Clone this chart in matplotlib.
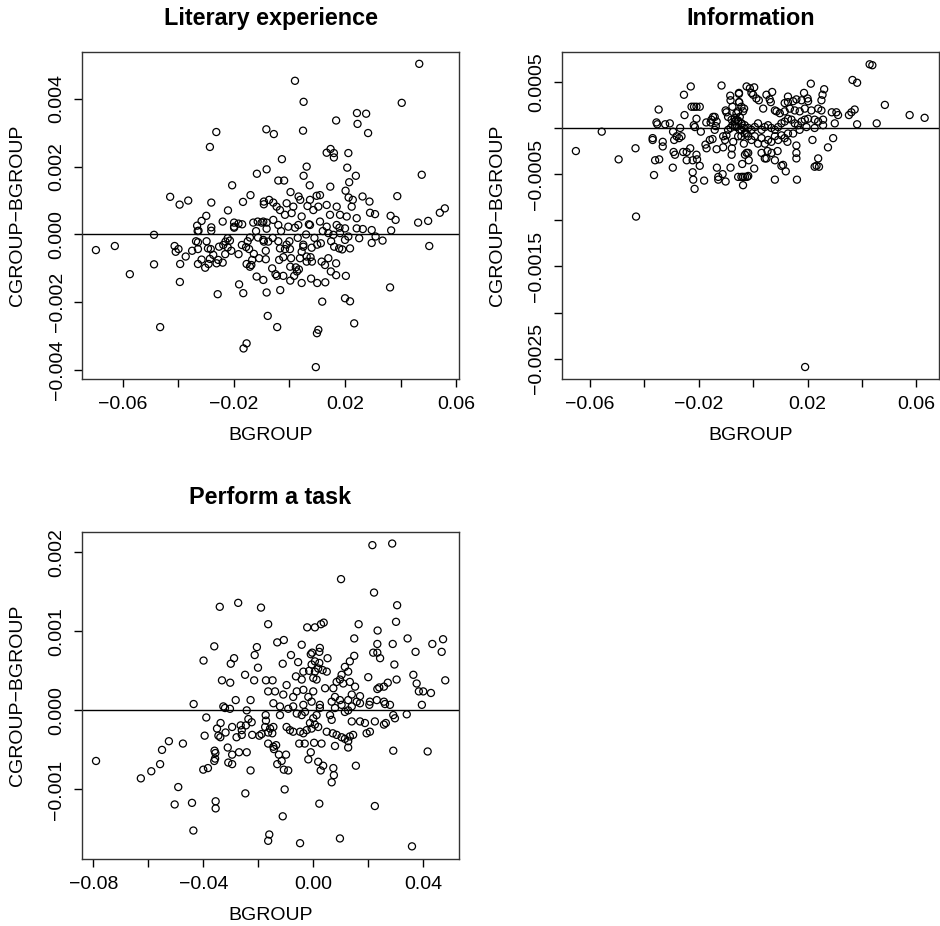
import matplotlib
matplotlib.use("Agg")
import matplotlib.pyplot as plt

plt.rcParams['font.family'] = ['Liberation Sans', 'DejaVu Sans']

# (BGROUP, CGROUP-BGROUP)
literary_pts = [
    (-0.0263, 0.00302), (-0.0286, 0.00258), (-0.0083, 0.00310), (-0.0082, 0.00192), (-0.0117, 0.00179),
    (-0.0206, 0.00145), (-0.0140, 0.00116), (-0.0429, 0.00111), (-0.0395, 0.00088), (-0.0364, 0.00100),
    (-0.0281, 0.00094), (-0.0167, 0.00096), (-0.0221, 0.00071), (-0.0092, 0.00097), (-0.0092, 0.00089),
    (-0.0299, 0.00055), (-0.0316, 0.00040), (-0.0332, 0.00026), (-0.0281, 0.00021), (-0.0281, 0.00011),
    (-0.0240, 0.00038), (-0.0199, 0.00035), (-0.0183, 0.00032), (-0.0199, 0.00023), (-0.0130, 0.00035),
    (-0.0114, 0.00038), (-0.0100, 0.00035), (-0.0082, 0.00035), (-0.0327, 0.00011), (-0.0487, -0.00001),
    (-0.0082, 0.00017),
    (-0.0696, -0.00046), (-0.0628, -0.00034), (-0.0574, -0.00117), (-0.0487, -0.00088), (-0.0465, -0.00273),
    (-0.0413, -0.00034), (-0.0399, -0.00043), (-0.0409, -0.00051), (-0.0373, -0.00065), (-0.0393, -0.00087),
    (-0.0394, -0.00140), (-0.0350, -0.00048), (-0.0336, -0.00020), (-0.0329, -0.00023), (-0.0329, -0.00043),
    (-0.0329, -0.00087), (-0.0316, -0.00074), (-0.0298, -0.00020), (-0.0293, -0.00041), (-0.0283, -0.00043),
    (-0.0303, -0.00098), (-0.0291, -0.00087), (-0.0286, -0.00072), (-0.0274, -0.00060), (-0.0262, -0.00085),
    (-0.0256, -0.00075), (-0.0240, -0.00083), (-0.0231, -0.00058), (-0.0253, -0.00036), (-0.0238, -0.00031),
    (-0.0230, -0.00021), (-0.0222, -0.00011), (-0.0214, -0.00018), (-0.0222, -0.00038), (-0.0209, -0.00048),
    (-0.0183, -0.00058), (-0.0258, -0.00176), (-0.0181, -0.00147), (-0.0166, -0.00173), (-0.0154, -0.00321),
    (-0.0165, -0.00336), (-0.0171, -0.00031), (-0.0156, -0.00037), (-0.0145, -0.00043), (-0.0128, -0.00057),
    (-0.0154, -0.00087), (-0.0137, -0.00090), (-0.0134, -0.00075), (-0.0142, -0.00095), (-0.0109, -0.00070),
    (-0.0118, -0.00124), (-0.0094, -0.00134), (-0.0082, -0.00171), (-0.0078, -0.00240), (-0.0085, -0.00048),
    (-0.0092, -0.00021), (-0.0142, -0.00009), (-0.0113, -0.00009), (-0.0199, 0.00020), (-0.0330, 0.00010),
    (0.0503, -0.00034), (0.0362, -0.00156), (0.0200, -0.00188), (0.0218, -0.00197), (0.0118, -0.00198),
    (0.0233, -0.00262), (0.0104, -0.00281), (0.0099, -0.00291), (0.0095, -0.00391), (-0.0044, -0.00273),
    (-0.0033, -0.00164), (0.0044, -0.00143), (0.0100, -0.00143), (0.0129, -0.00141), (0.0078, -0.00130),
    (0.0203, -0.00122), (0.0168, -0.00120), (0.0149, -0.00109), (0.0168, -0.00085), (0.0366, 0.00012),
    (0.0296, 0.00013), (0.0296, -0.00025), (0.0335, -0.00018), (0.0310, -0.00006), (0.0251, -0.00011),
    (0.0264, 0.00016), (0.0242, 0.00018),
    (0.0003, -0.00136), (0.0017, -0.00122), (0.0027, -0.00109), (0.0034, -0.00103), (0.0023, -0.00097),
    (-0.0062, -0.00100), (-0.0050, -0.00117), (-0.0045, -0.00122), (-0.0022, -0.00122), (-0.0085, -0.00073),
    (-0.0037, -0.00075), (-0.0022, -0.00067), (0.0006, -0.00070), (0.0003, -0.00095), (0.0038, -0.00070),
    (0.0044, -0.00051), (0.0062, -0.00065), (0.0076, -0.00067), (0.0081, -0.00080), (0.0062, -0.00080),
    (0.0116, -0.00080), (0.0128, -0.00090), (0.0140, -0.00070), (0.0080, -0.00039), (0.0050, -0.00036),
    (0.0113, -0.00026), (0.0161, -0.00036), (0.0179, -0.00041), (0.0190, -0.00044), (0.0218, -0.00041),
    (0.0140, 0.00004), (0.0158, -0.00001), (0.0182, 0.00004), (0.0200, -0.00016), (0.0212, -0.00006),
    (-0.0034, -0.00041), (-0.0016, -0.00043), (0.0002, -0.00043), (-0.0094, -0.00016), (-0.0076, -0.00021),
    (0.0467, 0.00503), (0.0020, 0.00453), (0.0051, 0.00391), (0.0404, 0.00388), (0.0243, 0.00358),
    (0.0276, 0.00356), (0.0168, 0.00336), (0.0245, 0.00326), (0.0283, 0.00299), (0.0049, 0.00306),
    (-0.0056, 0.00296), (0.0148, 0.00252), (0.0134, 0.00241), (0.0160, 0.00240), (0.0160, 0.00227),
    (0.0212, 0.00240), (-0.0027, 0.00222), (0.0062, 0.00200), (0.0051, 0.00173), (0.0208, 0.00197),
    (0.0239, 0.00173), (0.0215, 0.00154), (-0.0040, 0.00159), (-0.0019, 0.00159), (0.0073, 0.00145),
    (0.0147, 0.00141), (0.0476, 0.00176), (0.0388, 0.00113), (0.0004, 0.00125), (0.0033, 0.00112),
    (0.0039, 0.00102), (0.0098, 0.00114), (0.0110, 0.00116), (0.0074, 0.00102), (0.0065, 0.00084),
    (0.0202, 0.00129), (0.0213, 0.00109), (0.0228, 0.00102), (0.0263, 0.00112), (0.0288, 0.00097),
    (-0.0073, 0.00102), (-0.0058, 0.00094), (-0.0046, 0.00082), (-0.0034, 0.00072), (0.0290, 0.00064),
    (0.0308, 0.00060), (0.0364, 0.00055), (0.0382, 0.00043), (0.0463, 0.00035), (0.0499, 0.00040),
    (0.0541, 0.00064), (0.0559, 0.00077),
    (-0.0010, 0.00092), (0.0014, 0.00082), (-0.0016, 0.00058), (0.0008, 0.00063), (0.0044, 0.00053),
    (0.0086, 0.00072), (0.0104, 0.00082), (0.0134, 0.00087), (0.0170, 0.00082), (0.0146, 0.00058),
    (0.0182, 0.00058), (0.0206, 0.00053), (0.0224, 0.00082), (0.0242, 0.00048), (-0.0094, 0.00038),
    (-0.0058, 0.00043), (-0.0040, 0.00028), (-0.0004, 0.00023), (0.0032, 0.00028), (0.0074, 0.00028),
    (0.0110, 0.00038), (0.0134, 0.00023), (0.0170, 0.00028), (0.0200, 0.00018),
    (0.0000, -0.00020), (0.0030, -0.00010), (0.0060, 0.00000), (0.0090, -0.00010), (0.0120, 0.00010),
    (-0.0030, 0.00010), (-0.0060, -0.00010), (0.0050, -0.00030), (0.0100, -0.00030), (-0.0010, -0.00030),
    (0.0150, -0.00020), (0.0180, 0.00020), (0.0020, 0.00020), (-0.0040, -0.00020), (0.0070, 0.00030),
    (-0.0120, 0.00010), (-0.0150, -0.00020), (-0.0170, 0.00030),
]

information_pts = [
    (-0.0651, -0.00025), (-0.0556, -0.00004), (-0.0494, -0.00034), (-0.0432, -0.00022), (-0.0430, -0.00096),
    (-0.0364, -0.00051), (-0.0369, -0.00011), (-0.0369, -0.00013), (-0.0360, -0.00035), (-0.0345, -0.00034),
    (-0.0347, 0.00020), (-0.0355, 0.00006), (-0.0352, 0.00004), (-0.0332, -0.00015), (-0.0332, -0.00020),
    (-0.0323, 0.00004), (-0.0306, 0.00005), (-0.0295, -0.00043), (-0.0294, -0.00004), (-0.0281, -0.00009),
    (-0.0290, -0.00013), (-0.0272, -0.00011), (-0.0263, -0.00009), (-0.0268, 0.00000), (-0.0292, -0.00026),
    (-0.0287, -0.00029), (-0.0254, 0.00036), (-0.0252, 0.00014), (-0.0257, -0.00026), (-0.0244, -0.00026),
    (-0.0244, -0.00035), (-0.0229, 0.00045), (-0.0231, -0.00022), (-0.0226, 0.00023), (-0.0217, 0.00023),
    (-0.0208, 0.00023), (-0.0196, 0.00023), (-0.0218, 0.00003), (-0.0214, 0.00001), (-0.0208, 0.00010),
    (-0.0192, -0.00004), (-0.0222, -0.00035), (-0.0208, -0.00029), (-0.0206, -0.00034), (-0.0196, -0.00041),
    (-0.0222, -0.00048), (-0.0220, -0.00056), (-0.0215, -0.00066), (-0.0180, -0.00057), (-0.0172, 0.00006),
    (-0.0175, -0.00018), (-0.0171, -0.00022), (-0.0159, -0.00013), (-0.0149, -0.00012), (-0.0156, 0.00006),
    (-0.0153, 0.00009), (-0.0147, 0.00012), (-0.0141, 0.00012), (-0.0134, 0.00007), (-0.0137, 0.00002),
    (-0.0141, -0.00002), (-0.0133, -0.00043), (-0.0134, -0.00023), (-0.0116, 0.00046), (-0.0128, -0.00053),
    (-0.0128, -0.00056), (-0.0112, -0.00050), (-0.0101, -0.00058), (-0.0101, 0.00019), (-0.0098, 0.00017),
    (-0.0110, -0.00009), (-0.0103, -0.00013), (-0.0098, -0.00008), (-0.0110, -0.00021), (-0.0078, -0.00022),
    (-0.0079, -0.00029), (-0.0083, -0.00043), (-0.0092, -0.00002), (-0.0083, 0.00000), (-0.0076, 0.00003),
    (-0.0067, 0.00002), (-0.0073, -0.00015), (-0.0084, 0.00035), (-0.0083, 0.00030), (-0.0076, 0.00023),
    (-0.0052, 0.00037), (-0.0051, 0.00028), (-0.0061, 0.00016), (-0.0049, 0.00012), (-0.0037, 0.00018),
    (-0.0043, -0.00009), (-0.0034, -0.00017), (-0.0024, -0.00027), (-0.0037, -0.00053), (-0.0022, -0.00053),
    (-0.0037, -0.00062), (-0.0040, -0.00039), (-0.0024, 0.00045),
    (0.0428, 0.00069), (0.0438, 0.00068), (0.0365, 0.00052), (0.0382, 0.00049), (0.0484, 0.00025),
    (0.0575, 0.00014), (0.0630, 0.00011), (0.0454, 0.00005), (0.0382, 0.00004), (0.0352, 0.00014),
    (0.0361, 0.00017), (0.0373, 0.00020), (0.0289, 0.00017), (0.0306, 0.00017), (0.0312, 0.00014),
    (0.0300, 0.00005), (0.0294, -0.00011), (0.0275, -0.00021), (0.0218, -0.00013), (0.0212, 0.00048),
    (0.0261, 0.00042), (0.0255, 0.00036), (0.0251, 0.00030), (0.0239, -0.00033), (0.0233, -0.00041),
    (0.0242, -0.00042), (0.0226, -0.00042), (0.0159, -0.00019), (0.0159, -0.00027), (0.0159, -0.00033),
    (0.0161, -0.00056), (0.0126, -0.00015), (0.0110, -0.00040), (0.0104, -0.00041), (0.0120, -0.00047),
    (0.0080, -0.00056), (0.0080, -0.00035), (0.0053, -0.00025), (0.0068, -0.00027), (0.0090, -0.00025),
    (0.0031, -0.00027), (0.0043, -0.00033), (0.0049, -0.00033), (0.0004, -0.00044), (-0.0016, -0.00035),
    (-0.0030, -0.00029), (-0.0018, -0.00027), (-0.0055, -0.00053), (-0.0043, -0.00053), (-0.0030, -0.00053),
    (-0.0018, -0.00052), (-0.0012, 0.00043), (0.0004, 0.00044), (-0.0006, 0.00038), (0.0000, 0.00036),
    (0.0012, 0.00032), (0.0021, 0.00030), (-0.0052, 0.00038), (-0.0052, 0.00028), (-0.0043, 0.00023),
    (-0.0033, 0.00021), (-0.0055, 0.00018), (0.0049, 0.00036), (0.0070, 0.00039), (0.0061, 0.00031),
    (0.0065, 0.00028), (0.0128, 0.00034), (0.0116, 0.00027), (0.0128, 0.00028), (0.0147, 0.00029),
    (0.0159, 0.00031), (0.0178, 0.00030), (0.0187, 0.00038), (0.0200, 0.00032), (0.0202, 0.00029),
    (0.0037, 0.00021), (0.0080, 0.00019), (0.0086, 0.00018), (0.0098, 0.00016), (0.0116, 0.00018),
    (0.0135, 0.00021), (0.0153, 0.00019), (0.0171, 0.00018), (0.0190, 0.00021), (0.0214, 0.00019),
    (0.0239, 0.00021), (0.0251, 0.00019),
    (-0.0061, 0.00009), (-0.0043, 0.00005), (-0.0031, 0.00003), (-0.0018, 0.00000), (-0.0006, -0.00002),
    (0.0006, 0.00001), (0.0018, 0.00005), (0.0031, -0.00002), (0.0043, 0.00001), (0.0055, 0.00003),
    (0.0067, 0.00000), (0.0080, -0.00002), (0.0092, 0.00001), (0.0104, 0.00005), (0.0116, 0.00007),
    (0.0128, 0.00010), (0.0141, 0.00009), (0.0153, 0.00005), (0.0165, 0.00003), (0.0178, 0.00007),
    (0.0190, 0.00009), (0.0202, 0.00010), (0.0226, 0.00009), (0.0239, 0.00007), (0.0257, 0.00009),
    (0.0257, 0.00003), (0.0226, 0.00000), (0.0196, 0.00001), (0.0171, -0.00002), (0.0147, -0.00006),
    (0.0128, -0.00006), (0.0104, -0.00008), (0.0080, -0.00009), (0.0055, -0.00013), (0.0031, -0.00011),
    (0.0006, -0.00009), (-0.0018, -0.00009), (-0.0031, -0.00006), (-0.0043, -0.00002), (-0.0055, -0.00009),
    (-0.0006, -0.00013), (0.0018, -0.00017), (0.0043, -0.00017), (0.0067, -0.00015), (0.0092, -0.00013),
    (0.0116, -0.00011), (-0.0067, 0.00011), (-0.0055, 0.00008), (-0.0061, 0.00001), (-0.0049, -0.00002),
    (-0.0034, 0.00000), (-0.0024, -0.00006), (-0.0043, 0.00005), (-0.0055, 0.00007), (-0.0092, 0.00012),
    (-0.0079, 0.00009), (-0.0067, 0.00007),
    (0.0191, -0.00259),
]

task_pts = [
    (-0.0340, 0.00131), (-0.0273, 0.00136), (-0.0190, 0.00130), (-0.0164, 0.00109), (-0.0360, 0.00081),
    (-0.0399, 0.00063), (-0.0288, 0.00066), (-0.0300, 0.00059), (-0.0205, 0.00080), (-0.0213, 0.00070),
    (-0.0201, 0.00054), (-0.0248, 0.00045), (-0.0332, 0.00038), (-0.0302, 0.00035), (-0.0215, 0.00038),
    (-0.0172, 0.00038), (-0.0164, 0.00024), (-0.0435, 0.00008), (-0.0282, 0.00013), (-0.0228, 0.00013),
    (-0.0327, 0.00005), (-0.0321, 0.00003), (-0.0303, 0.00002), (-0.0242, 0.00000),
    (0.0215, 0.00209), (0.0287, 0.00211), (0.0101, 0.00166), (0.0221, 0.00149), (0.0305, 0.00133),
    (-0.0022, 0.00105), (0.0006, 0.00105), (0.0028, 0.00109), (0.0038, 0.00111), (0.0165, 0.00109),
    (0.0301, 0.00112), (0.0234, 0.00101), (0.0149, 0.00091), (-0.0131, 0.00086), (-0.0107, 0.00089),
    (-0.0042, 0.00083), (0.0024, 0.00079), (-0.0004, 0.00073), (-0.0009, 0.00071), (0.0343, 0.00091),
    (0.0289, 0.00084), (0.0233, 0.00084), (0.0218, 0.00073), (0.0233, 0.00073), (0.0243, 0.00066),
    (0.0433, 0.00084), (0.0472, 0.00090), (0.0467, 0.00074), (0.0372, 0.00074), (0.0480, 0.00038),
    (0.0400, 0.00024), (0.0428, 0.00022), (0.0364, 0.00045), (0.0376, 0.00034), (0.0384, 0.00024),
    (0.0395, 0.00007), (0.0295, 0.00058), (0.0303, 0.00039), (0.0271, 0.00035), (0.0257, 0.00030),
    (0.0240, 0.00029), (0.0233, 0.00027), (0.0200, 0.00042), (0.0149, 0.00069), (0.0133, 0.00062),
    (0.0115, 0.00055), (0.0127, 0.00049), (0.0103, 0.00045), (0.0097, 0.00039), (0.0109, 0.00034),
    (0.0133, 0.00036), (0.0152, 0.00030), (0.0170, 0.00018), (0.0140, 0.00020), (0.0158, 0.00011),
    (0.0052, 0.00066), (0.0022, 0.00074), (0.0006, 0.00062), (0.0022, 0.00060), (0.0018, 0.00053),
    (0.0034, 0.00051), (0.0049, 0.00049), (0.0006, 0.00049), (-0.0015, 0.00050), (-0.0006, 0.00058),
    (0.0000, 0.00041), (0.0012, 0.00039), (0.0043, 0.00028), (0.0073, 0.00028), (0.0085, 0.00036),
    (-0.0111, 0.00059), (-0.0081, 0.00070), (-0.0055, 0.00061), (-0.0063, 0.00043), (-0.0042, 0.00039),
    (-0.0036, 0.00049), (-0.0148, 0.00038), (-0.0139, 0.00024), (-0.0097, 0.00032), (-0.0109, 0.00020),
    (-0.0145, 0.00009), (-0.0121, 0.00005), (-0.0073, 0.00017), (-0.0060, 0.00024), (-0.0036, 0.00026),
    (-0.0018, 0.00017), (0.0000, 0.00024), (-0.0073, 0.00005), (-0.0036, 0.00007), (-0.0006, 0.00011),
    (0.0024, 0.00007), (0.0079, 0.00017), (0.0097, 0.00013), (0.0067, 0.00011), (0.0103, 0.00007),
    (0.0127, 0.00013), (0.0140, 0.00005), (0.0170, 0.00009), (0.0206, 0.00011), (0.0231, 0.00013),
    (0.0257, 0.00011),
    (-0.0790, -0.00064), (-0.0627, -0.00086), (-0.0589, -0.00077), (-0.0557, -0.00068), (-0.0550, -0.00050),
    (-0.0525, -0.00039), (-0.0474, -0.00042), (-0.0491, -0.00097), (-0.0504, -0.00119), (-0.0441, -0.00117),
    (-0.0436, -0.00152), (-0.0389, -0.00009), (-0.0395, -0.00032), (-0.0400, -0.00075), (-0.0383, -0.00073),
    (-0.0355, -0.00115), (-0.0355, -0.00124), (-0.0359, -0.00051), (-0.0356, -0.00054), (-0.0357, -0.00061),
    (-0.0360, -0.00064), (-0.0350, -0.00023), (-0.0337, -0.00016), (-0.0345, -0.00032), (-0.0338, -0.00034),
    (-0.0319, -0.00028), (-0.0311, -0.00047), (-0.0309, -0.00066), (-0.0295, -0.00068), (-0.0295, -0.00021),
    (-0.0295, -0.00056), (-0.0279, -0.00034), (-0.0260, -0.00031), (-0.0260, -0.00025), (-0.0264, -0.00019),
    (-0.0245, -0.00019), (-0.0270, -0.00053), (-0.0242, -0.00053), (-0.0236, -0.00011), (-0.0224, -0.00015),
    (-0.0228, -0.00076), (-0.0247, -0.00105), (-0.0222, -0.00031), (-0.0196, -0.00032), (-0.0188, -0.00030),
    (-0.0173, -0.00006), (-0.0172, -0.00013), (-0.0175, -0.00021), (-0.0164, -0.00028), (-0.0164, -0.00042),
    (-0.0160, -0.00157), (-0.0164, -0.00165),
    (-0.0048, -0.00168), (0.0097, -0.00162), (0.0359, -0.00172), (-0.0111, -0.00134), (0.0022, -0.00118),
    (0.0224, -0.00121), (-0.0104, -0.00100), (0.0291, -0.00051), (0.0416, -0.00052), (0.0155, -0.00070),
    (0.0067, -0.00091), (0.0075, -0.00082), (0.0073, -0.00073), (0.0018, -0.00065), (0.0036, -0.00070),
    (0.0027, -0.00076), (-0.0018, -0.00062), (-0.0009, -0.00053), (-0.0107, -0.00075), (-0.0091, -0.00076),
    (-0.0115, -0.00064), (-0.0131, -0.00068), (-0.0125, -0.00056), (-0.0099, -0.00056), (-0.0145, -0.00046),
    (-0.0135, -0.00044), (-0.0143, -0.00049), (-0.0051, -0.00042), (-0.0031, -0.00042), (0.0003, -0.00041),
    (0.0030, -0.00042), (0.0079, -0.00045), (0.0127, -0.00047), (-0.0157, -0.00023), (-0.0145, -0.00021),
    (-0.0149, -0.00029), (-0.0121, -0.00006), (-0.0091, 0.00002), (-0.0060, -0.00004), (-0.0042, -0.00006),
    (-0.0030, -0.00002), (-0.0097, -0.00021), (-0.0085, -0.00025), (-0.0073, -0.00027), (-0.0048, -0.00027),
    (-0.0036, -0.00029), (-0.0024, -0.00025), (-0.0006, -0.00023), (0.0006, -0.00018), (0.0018, -0.00021),
    (-0.0012, -0.00016), (0.0000, -0.00010), (0.0012, -0.00006), (0.0024, 0.00003), (0.0049, -0.00027),
    (0.0071, -0.00029), (0.0085, -0.00031), (0.0103, -0.00034), (0.0115, -0.00036), (0.0133, -0.00033),
    (0.0145, -0.00031), (0.0127, -0.00039), (0.0061, -0.00006), (0.0079, 0.00003), (0.0115, -0.00002),
    (0.0127, 0.00000), (0.0067, -0.00012), (0.0140, -0.00014), (0.0170, -0.00014), (0.0188, -0.00016),
    (0.0224, -0.00014), (0.0194, -0.00029), (0.0206, -0.00027), (0.0257, -0.00018), (0.0264, -0.00016),
    (0.0291, -0.00006), (0.0297, -0.00010), (0.0340, -0.00005), (0.0204, 0.00007), (0.0261, 0.00008),
    (0.0279, 0.00007),
]

titles = ["Literary experience", "Information", "Perform a task"]

lit_xticks = [-0.06, -0.04, -0.02, 0.0, 0.02, 0.04, 0.06]
lit_xlabels = ["\u22120.06", "", "\u22120.02", "", "0.02", "", "0.06"]
lit_yticks = [-0.004, -0.002, 0.0, 0.002, 0.004]
lit_ylabels = ["\u22120.004", "\u22120.002", "0.000", "0.002", "0.004"]

inf_xticks = lit_xticks
inf_xlabels = lit_xlabels
inf_yticks = [-0.0025, -0.002, -0.0015, -0.001, -0.0005, 0.0, 0.0005]
inf_ylabels = ["\u22120.0025", "", "\u22120.0015", "", "\u22120.0005", "", "0.0005"]

task_xticks = [-0.08, -0.06, -0.04, -0.02, 0.0, 0.02, 0.04]
task_xlabels = ["\u22120.08", "", "\u22120.04", "", "0.00", "", "0.04"]
task_yticks = [-0.001, 0.0, 0.001, 0.002]
task_ylabels = ["\u22120.001", "0.000", "0.001", "0.002"]

W, H = 940, 926
fig = plt.figure(figsize=(W / 100, H / 100), dpi=100)


def panel(box, pts, title, xlim, ylim, xt, xl, yt, yl):
    l, t, r, b = box
    ax = fig.add_axes([l / W, 1 - b / H, (r - l) / W, (b - t) / H])
    xs = [p[0] for p in pts]
    ys = [p[1] for p in pts]
    ax.axhline(0, color="black", lw=1.0, zorder=1)
    ax.scatter(xs, ys, s=26, facecolors="none", edgecolors="black", linewidths=0.9, zorder=2)
    ax.set_xlim(*xlim)
    ax.set_ylim(*ylim)
    ax.set_xticks(xt)
    ax.set_xticklabels(xl)
    ax.set_yticks(yt)
    ax.set_yticklabels(yl, rotation=90, va="center")
    ax.tick_params(direction="out", length=6, width=1, labelsize=14, pad=6, color="black")
    for s in ax.spines.values():
        s.set_linewidth(1.0)
        s.set_color("#333333")
    ax.set_title(title, fontsize=16.8, fontweight="bold", pad=20)
    ax.set_xlabel("BGROUP", fontsize=14, labelpad=10)
    ax.set_ylabel("CGROUP\u2212BGROUP", fontsize=14, labelpad=16)
    return ax


panel((82.3, 52.3, 459, 379), literary_pts, titles[0], (-0.0745, 0.061), (-0.00426, 0.00537),
      lit_xticks, lit_xlabels, lit_yticks, lit_ylabels)
panel((562, 52.3, 938.5, 379), information_pts, titles[1], (-0.0702, 0.0681), (-0.00272, 0.00082),
      inf_xticks, inf_xlabels, inf_yticks, inf_ylabels)
panel((82, 531.7, 459, 859), task_pts, titles[2], (-0.0841, 0.053), (-0.00188, 0.00226),
      task_xticks, task_xlabels, task_yticks, task_ylabels)

fig.savefig("out.png", dpi=100)
